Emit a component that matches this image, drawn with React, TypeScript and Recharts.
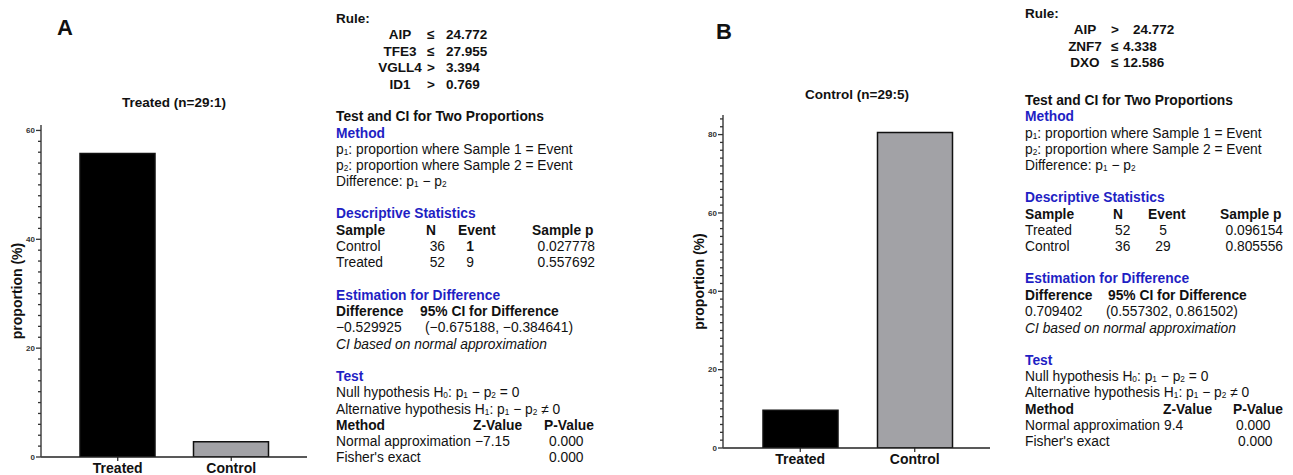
import React from 'react';
import { BarChart, Bar, XAxis, YAxis, Cell } from 'recharts';

const categories = ['Treated', 'Control'];
const proportionA = [55.77, 2.78];
const proportionB = [9.62, 80.56];
const barColors = ['#000000', '#a2a2a6'];
const yMajorA = [0, 20, 40, 60];
const yMajorB = [0, 20, 40, 60, 80];
const yMaxA = 61;
const yMaxB = 85;
const titleA = 'Treated (n=29:1)';
const titleB = 'Control (n=29:5)';

const rulesA = [
  ['AIP', '≤', '24.772'],
  ['TFE3', '≤', '27.955'],
  ['VGLL4', '>', '3.394'],
  ['ID1', '>', '0.769'],
];
const rulesB = [
  ['AIP', '>', '24.772'],
  ['ZNF7', '≤', '4.338'],
  ['DXO', '≤', '12.586'],
];
const descA = [
  ['Control', '36', '1', '0.027778'],
  ['Treated', '52', '9', '0.557692'],
];
const descB = [
  ['Treated', '52', '5', '0.096154'],
  ['Control', '36', '29', '0.805556'],
];
const diffA = ['−0.529925', '(−0.675188, −0.384641)'];
const diffB = ['0.709402', '(0.557302, 0.861502)'];
const testA = [
  ['Normal approximation', '−7.15', '0.000'],
  ["Fisher's exact", '', '0.000'],
];
const testB = [
  ['Normal approximation', '9.4', '0.000'],
  ["Fisher's exact", '', '0.000'],
];

const dataA = categories.map((name, i) => ({ name, value: proportionA[i] }));
const dataB = categories.map((name, i) => ({ name, value: proportionB[i] }));

const minorList = (max: number) => {
  const out: number[] = [];
  for (let v = 0; v <= max; v += 2) out.push(v);
  return out;
};

const BLUE = '#1f1fc4';
const FONT = '"Liberation Sans", Arial, sans-serif';

const T = ({ x, y, children, w = 'normal', color = '#111', it = false, align = 'left', size = 13.8 }: any) => (
  <div
    style={{
      position: 'absolute',
      left: x,
      top: y - 9,
      lineHeight: '16px',
      fontSize: size,
      fontWeight: w,
      color,
      fontStyle: it ? 'italic' : 'normal',
      whiteSpace: 'nowrap',
      transform: align === 'right' ? 'translateX(-100%)' : align === 'center' ? 'translateX(-50%)' : undefined,
    }}
  >
    {children}
  </div>
);

const S = ({ c }: any) => (
  <span style={{ fontSize: '0.6em', position: 'relative', top: '0.1em' }}>{c}</span>
);

const makeTick = (majors: number[]) => (props: any) => {
  const { x, y, payload } = props;
  const major = majors.includes(payload.value);
  const len = major ? 5 : 3;
  return (
    <g>
      <line x1={x - len} x2={x} y1={y} y2={y} stroke="#333" strokeWidth={1.3} />
      {major && (
        <text x={x - len - 1} y={y} dy="0.35em" textAnchor="end" fontSize={8} fontWeight="bold" fill="#333" fontFamily={FONT}>
          {payload.value}
        </text>
      )}
    </g>
  );
};

const Chart = ({ data, max, majors, axisW, top, right, xh, padL, padR, labelDx }: any) => (
  <BarChart width={320} height={475} data={data} margin={{ top, right, bottom: 0, left: 0 }}>
    <XAxis
      dataKey="name"
      interval={0}
      height={xh}
      padding={{ left: padL, right: padR }}
      axisLine={{ stroke: '#222', strokeWidth: 1.5 }}
      tickLine={{ stroke: '#222', strokeWidth: 1.2 }}
      tickSize={4}
      tickMargin={2}
      tick={{ fontSize: 14, fontWeight: 'bold', fill: '#111', fontFamily: FONT }}
    />
    <YAxis
      width={axisW}
      domain={[0, max]}
      ticks={minorList(max)}
      interval={0}
      allowDataOverflow
      tickSize={0}
      tickMargin={0}
      tickLine={false}
      axisLine={{ stroke: '#444', strokeWidth: 1.5 }}
      tick={makeTick(majors)}
      label={{
        value: 'proportion (%)',
        angle: -90,
        position: 'center',
        dx: labelDx,
        style: { fontSize: 14, fontWeight: 'bold', fill: '#111', fontFamily: FONT },
      }}
    />
    <Bar dataKey="value" barSize={75} stroke="#111" strokeWidth={1.5} isAnimationActive={false}>
      {data.map((d: any, i: number) => (
        <Cell key={d.name} fill={barColors[i]} />
      ))}
    </Bar>
  </BarChart>
);

export default function App() {
  return (
    <div style={{ position: 'relative', width: 1293, height: 475, background: '#fff', fontFamily: FONT, overflow: 'hidden' }}>
      <style>{'body{margin:0}'}</style>

      {/* Panel A chart */}
      <div style={{ position: 'absolute', left: 0, top: 0 }}>
        <Chart data={dataA} max={yMaxA} majors={yMajorA} axisW={41} top={125} right={13} xh={18} padL={20} padR={19} labelDx={-3} />
      </div>
      <T x={65} y={29} w="bold" size={22} align="center">A</T>
      <T x={174} y={104} w="bold" size={13.5} align="center">{titleA}</T>

      {/* Panel A text */}
      <T x={336} y={20} w="bold" size={13.5}>Rule:</T>
      {rulesA.map((r, i) => (
        <React.Fragment key={r[0]}>
          <T x={400} y={36 + i * 16.5} w="bold" size={13.5} align="center">{r[0]}</T>
          <T x={427} y={36 + i * 16.5} w="bold" size={13.5}>{r[1]}</T>
          <T x={446} y={36 + i * 16.5} w="bold" size={13.5}>{r[2]}</T>
        </React.Fragment>
      ))}
      <T x={336} y={118} w="bold">Test and CI for Two Proportions</T>
      <T x={336} y={135} w="bold" color={BLUE}>Method</T>
      <T x={336} y={151}>p<S c="1" />: proportion where Sample 1 = Event</T>
      <T x={336} y={167}>p<S c="2" />: proportion where Sample 2 = Event</T>
      <T x={336} y={183}>Difference: p<S c="1" /> − p<S c="2" /></T>
      <T x={336} y={215} w="bold" color={BLUE}>Descriptive Statistics</T>
      <T x={336} y={232} w="bold">Sample</T>
      <T x={426} y={232} w="bold">N</T>
      <T x={458} y={232} w="bold">Event</T>
      <T x={532} y={232} w="bold">Sample p</T>
      {descA.map((r, i) => (
        <React.Fragment key={r[0]}>
          <T x={336} y={248 + i * 16}>{r[0]}</T>
          <T x={445} y={248 + i * 16} align="right">{r[1]}</T>
          <T x={470} y={248 + i * 16} align="center" w={i === 0 ? 'bold' : 'normal'}>{r[2]}</T>
          <T x={595} y={248 + i * 16} align="right">{r[3]}</T>
        </React.Fragment>
      ))}
      <T x={336} y={297} w="bold" color={BLUE}>Estimation for Difference</T>
      <T x={336} y={313} w="bold">Difference</T>
      <T x={420} y={313} w="bold">95% CI for Difference</T>
      <T x={336} y={329}>{diffA[0]}</T>
      <T x={425} y={329}>{diffA[1]}</T>
      <T x={336} y={346} it>CI based on normal approximation</T>
      <T x={336} y={378} w="bold" color={BLUE}>Test</T>
      <T x={336} y={394}>Null hypothesis H<S c="0" />: p<S c="1" /> − p<S c="2" /> = 0</T>
      <T x={336} y={411}>Alternative hypothesis H<S c="1" />: p<S c="1" /> − p<S c="2" /> ≠ 0</T>
      <T x={336} y={427} w="bold">Method</T>
      <T x={473} y={427} w="bold">Z-Value</T>
      <T x={544} y={427} w="bold">P-Value</T>
      {testA.map((r, i) => (
        <React.Fragment key={r[0]}>
          <T x={336} y={443 + i * 16}>{r[0]}</T>
          <T x={475} y={443 + i * 16}>{r[1]}</T>
          <T x={549} y={443 + i * 16}>{r[2]}</T>
        </React.Fragment>
      ))}

      {/* Panel B chart */}
      <div style={{ position: 'absolute', left: 680, top: 0 }}>
        <Chart data={dataB} max={yMaxB} majors={yMajorB} axisW={43} top={115} right={10} xh={27} padL={20} padR={18} labelDx={-2} />
      </div>
      <T x={724} y={33} w="bold" size={22} align="center">B</T>
      <T x={857} y={96} w="bold" size={13.5} align="center">{titleB}</T>

      {/* Panel B text */}
      <T x={1025} y={15} w="bold" size={13.5}>Rule:</T>
      {rulesB.map((r, i) => (
        <React.Fragment key={r[0]}>
          <T x={1085} y={31 + i * 16.5} w="bold" size={13.5} align="center">{r[0]}</T>
          <T x={1111} y={31 + i * 16.5} w="bold" size={13.5}>{r[1]}</T>
          <T x={i === 0 ? 1133 : 1123} y={31 + i * 16.5} w="bold" size={13.5}>{r[2]}</T>
        </React.Fragment>
      ))}
      <T x={1025} y={102} w="bold">Test and CI for Two Proportions</T>
      <T x={1025} y={118} w="bold" color={BLUE}>Method</T>
      <T x={1025} y={135}>p<S c="1" />: proportion where Sample 1 = Event</T>
      <T x={1025} y={151}>p<S c="2" />: proportion where Sample 2 = Event</T>
      <T x={1025} y={167}>Difference: p<S c="1" /> − p<S c="2" /></T>
      <T x={1025} y={199} w="bold" color={BLUE}>Descriptive Statistics</T>
      <T x={1025} y={216} w="bold">Sample</T>
      <T x={1113} y={216} w="bold">N</T>
      <T x={1148} y={216} w="bold">Event</T>
      <T x={1220} y={216} w="bold">Sample p</T>
      {descB.map((r, i) => (
        <React.Fragment key={r[0]}>
          <T x={1025} y={232 + i * 16}>{r[0]}</T>
          <T x={1115} y={232 + i * 16}>{r[1]}</T>
          <T x={1163} y={232 + i * 16} align="center">{r[2]}</T>
          <T x={1283} y={232 + i * 16} align="right">{r[3]}</T>
        </React.Fragment>
      ))}
      <T x={1025} y={280} w="bold" color={BLUE}>Estimation for Difference</T>
      <T x={1025} y={297} w="bold">Difference</T>
      <T x={1108} y={297} w="bold">95% CI for Difference</T>
      <T x={1025} y={313}>{diffB[0]}</T>
      <T x={1106} y={313}>{diffB[1]}</T>
      <T x={1025} y={330} it>CI based on normal approximation</T>
      <T x={1025} y={362} w="bold" color={BLUE}>Test</T>
      <T x={1025} y={378}>Null hypothesis H<S c="0" />: p<S c="1" /> − p<S c="2" /> = 0</T>
      <T x={1025} y={394}>Alternative hypothesis H<S c="1" />: p<S c="1" /> − p<S c="2" /> ≠ 0</T>
      <T x={1025} y={411} w="bold">Method</T>
      <T x={1163} y={411} w="bold">Z-Value</T>
      <T x={1233} y={411} w="bold">P-Value</T>
      {testB.map((r, i) => (
        <React.Fragment key={r[0]}>
          <T x={1025} y={427 + i * 16}>{r[0]}</T>
          <T x={1164} y={427 + i * 16}>{r[1]}</T>
          <T x={1236 + i * 2} y={427 + i * 16}>{r[2]}</T>
        </React.Fragment>
      ))}
    </div>
  );
}
